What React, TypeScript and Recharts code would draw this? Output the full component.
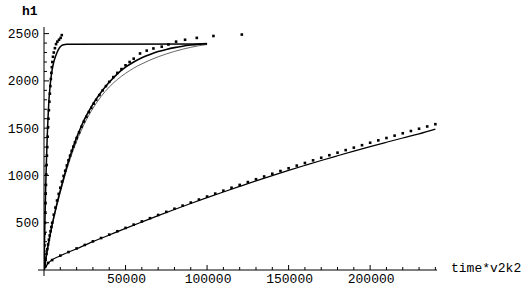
import { ComposedChart, Line, Scatter, XAxis, YAxis } from 'recharts'

// fast run: fitted curve + measured points
const fastLine = [
  { x: 0, y: 0 }, { x: 500, y: 450 }, { x: 1000, y: 850 }, { x: 1500, y: 1150 },
  { x: 2000, y: 1420 }, { x: 2500, y: 1620 }, { x: 3000, y: 1790 }, { x: 3500, y: 1900 },
  { x: 4000, y: 1990 }, { x: 4500, y: 2060 }, { x: 5000, y: 2120 }, { x: 6000, y: 2200 },
  { x: 7000, y: 2255 }, { x: 8000, y: 2300 }, { x: 9000, y: 2335 }, { x: 10000, y: 2360 },
  { x: 11000, y: 2375 }, { x: 12000, y: 2383 }, { x: 14000, y: 2388 }, { x: 100000, y: 2390 },
]
const fastDots = [
  { x: 150, y: 130 }, { x: 300, y: 260 }, { x: 450, y: 385 }, { x: 600, y: 500 },
  { x: 750, y: 610 }, { x: 900, y: 710 }, { x: 1050, y: 810 }, { x: 1200, y: 900 },
  { x: 1400, y: 1010 }, { x: 1600, y: 1110 }, { x: 1800, y: 1210 }, { x: 2000, y: 1300 },
  { x: 2250, y: 1410 }, { x: 2500, y: 1510 }, { x: 2750, y: 1600 }, { x: 3000, y: 1690 },
  { x: 3300, y: 1780 }, { x: 3600, y: 1865 }, { x: 3900, y: 1945 }, { x: 4200, y: 2020 },
  { x: 4500, y: 2085 }, { x: 4800, y: 2145 }, { x: 5100, y: 2200 }, { x: 5500, y: 2255 },
  { x: 6000, y: 2300 }, { x: 6700, y: 2346 }, { x: 7400, y: 2389 }, { x: 8200, y: 2415 },
  { x: 9200, y: 2435 }, { x: 10200, y: 2455 }, { x: 10900, y: 2484 },
]

// medium run: two fits + points
const midLine = [
  { x: 0, y: 0 }, { x: 2500, y: 260 }, { x: 5000, y: 480 }, { x: 7500, y: 670 },
  { x: 10000, y: 840 }, { x: 12500, y: 1000 }, { x: 15000, y: 1150 }, { x: 17500, y: 1280 },
  { x: 20000, y: 1400 }, { x: 22500, y: 1505 }, { x: 25000, y: 1600 }, { x: 27500, y: 1680 },
  { x: 30000, y: 1755 }, { x: 32500, y: 1820 }, { x: 35000, y: 1880 }, { x: 37500, y: 1935 },
  { x: 40000, y: 1985 }, { x: 45000, y: 2075 }, { x: 50000, y: 2145 }, { x: 55000, y: 2200 },
  { x: 60000, y: 2245 }, { x: 65000, y: 2280 }, { x: 70000, y: 2310 }, { x: 75000, y: 2333 },
  { x: 80000, y: 2352 }, { x: 85000, y: 2367 }, { x: 90000, y: 2379 }, { x: 95000, y: 2389 },
  { x: 100000, y: 2396 },
]
const midLine2 = [
  { x: 0, y: 0 }, { x: 5000, y: 470 }, { x: 10000, y: 820 }, { x: 15000, y: 1120 },
  { x: 20000, y: 1360 }, { x: 25000, y: 1555 }, { x: 30000, y: 1710 }, { x: 35000, y: 1835 },
  { x: 40000, y: 1935 }, { x: 45000, y: 2015 }, { x: 50000, y: 2080 }, { x: 55000, y: 2135 },
  { x: 60000, y: 2180 }, { x: 65000, y: 2220 }, { x: 70000, y: 2255 }, { x: 75000, y: 2285 },
  { x: 80000, y: 2312 }, { x: 85000, y: 2335 }, { x: 90000, y: 2355 }, { x: 95000, y: 2372 },
  { x: 100000, y: 2385 },
]
const midDots = [
  { x: 500, y: 60 }, { x: 1000, y: 115 }, { x: 1500, y: 170 }, { x: 2000, y: 220 },
  { x: 2500, y: 270 }, { x: 3000, y: 320 }, { x: 3500, y: 365 }, { x: 4000, y: 410 },
  { x: 4500, y: 455 }, { x: 5000, y: 500 }, { x: 6000, y: 585 }, { x: 7000, y: 660 },
  { x: 8000, y: 735 }, { x: 9000, y: 805 }, { x: 10000, y: 870 }, { x: 11000, y: 935 },
  { x: 12000, y: 995 }, { x: 13000, y: 1050 }, { x: 14000, y: 1105 }, { x: 15000, y: 1160 },
  { x: 16000, y: 1210 }, { x: 17000, y: 1260 }, { x: 18000, y: 1305 }, { x: 19000, y: 1350 },
  { x: 20000, y: 1395 }, { x: 21500, y: 1455 }, { x: 23000, y: 1515 }, { x: 24500, y: 1570 },
  { x: 26000, y: 1620 }, { x: 27500, y: 1670 }, { x: 29000, y: 1715 }, { x: 30500, y: 1760 },
  { x: 32000, y: 1800 }, { x: 34000, y: 1850 }, { x: 36000, y: 1900 }, { x: 38000, y: 1945 },
  { x: 40000, y: 1990 }, { x: 42500, y: 2040 }, { x: 45000, y: 2085 }, { x: 47500, y: 2125 },
  { x: 50000, y: 2165 }, { x: 52500, y: 2200 }, { x: 55000, y: 2235 }, { x: 58900, y: 2290 },
  { x: 63000, y: 2320 }, { x: 67100, y: 2343 }, { x: 72200, y: 2362 }, { x: 76300, y: 2385 },
  { x: 81000, y: 2415 }, { x: 86500, y: 2435 }, { x: 93700, y: 2455 }, { x: 103900, y: 2475 },
  { x: 121300, y: 2490 },
]

// slow run
const slowLine = [
  { x: 0, y: 0 }, { x: 3000, y: 80 }, { x: 10000, y: 150 }, { x: 20000, y: 225 },
  { x: 30000, y: 300 }, { x: 40000, y: 370 }, { x: 50000, y: 440 }, { x: 60000, y: 508 },
  { x: 70000, y: 575 }, { x: 80000, y: 640 }, { x: 90000, y: 703 }, { x: 100000, y: 765 },
  { x: 110000, y: 825 }, { x: 120000, y: 884 }, { x: 130000, y: 942 }, { x: 140000, y: 998 },
  { x: 150000, y: 1053 }, { x: 160000, y: 1106 }, { x: 170000, y: 1158 }, { x: 180000, y: 1208 },
  { x: 190000, y: 1257 }, { x: 200000, y: 1305 }, { x: 210000, y: 1351 }, { x: 220000, y: 1396 },
  { x: 230000, y: 1440 }, { x: 240000, y: 1490 },
]
const slowDots = [
  { x: 1000, y: 40 }, { x: 2500, y: 75 }, { x: 5000, y: 105 }, { x: 10000, y: 152 },
  { x: 15000, y: 190 }, { x: 20000, y: 228 }, { x: 25000, y: 265 }, { x: 30000, y: 303 },
  { x: 35000, y: 338 }, { x: 40000, y: 374 }, { x: 45000, y: 410 }, { x: 50000, y: 445 },
  { x: 55000, y: 480 }, { x: 60000, y: 514 }, { x: 65000, y: 548 }, { x: 70000, y: 582 },
  { x: 75000, y: 615 }, { x: 80000, y: 648 }, { x: 85000, y: 681 }, { x: 90000, y: 713 },
  { x: 95000, y: 745 }, { x: 100000, y: 777 }, { x: 105000, y: 808 }, { x: 110000, y: 839 },
  { x: 115000, y: 870 }, { x: 120000, y: 900 }, { x: 125000, y: 930 }, { x: 130000, y: 960 },
  { x: 135000, y: 989 }, { x: 140000, y: 1018 }, { x: 145000, y: 1047 }, { x: 150000, y: 1076 },
  { x: 155000, y: 1104 }, { x: 160000, y: 1132 }, { x: 165000, y: 1160 }, { x: 170000, y: 1187 },
  { x: 175000, y: 1214 }, { x: 180000, y: 1241 }, { x: 185000, y: 1268 }, { x: 190000, y: 1294 },
  { x: 195000, y: 1320 }, { x: 200000, y: 1346 }, { x: 205000, y: 1371 }, { x: 210000, y: 1396 },
  { x: 215000, y: 1421 }, { x: 220000, y: 1446 }, { x: 225000, y: 1470 }, { x: 230000, y: 1494 },
  { x: 235000, y: 1518 }, { x: 240000, y: 1542 },
]

const xTicks = [
  0, 10000, 20000, 30000, 40000, 50000, 60000, 70000, 80000, 90000, 100000, 110000, 120000,
  130000, 140000, 150000, 160000, 170000, 180000, 190000, 200000, 210000, 220000, 230000, 240000,
]
const xLabels = [50000, 100000, 150000, 200000]
const yTicks = [
  0, 100, 200, 300, 400, 500, 600, 700, 800, 900, 1000, 1100, 1200, 1300, 1400, 1500, 1600,
  1700, 1800, 1900, 2000, 2100, 2200, 2300, 2400, 2500,
]
const yLabels = [500, 1000, 1500, 2000, 2500]

const font = '"Liberation Mono", "DejaVu Sans Mono", monospace'

const XTick = ({ x, y, payload }: any) => {
  const v = payload.value
  if (v === 0) return <line x1={x - 6} y1={y} x2={x} y2={y} stroke="#000" />
  const major = xLabels.includes(v)
  return (
    <g>
      <line x1={x} y1={y} x2={x} y2={y - (major ? 5 : 3)} stroke="#000" />
      {major && (
        <text x={x + 1} y={y + 13} textAnchor="middle" fontFamily={font} fontSize={13} fill="#000">
          {v}
        </text>
      )}
    </g>
  )
}

const YTick = ({ x, y, payload }: any) => {
  const v = payload.value
  if (v === 0) return <line x1={x} y1={y} x2={x} y2={y + 6} stroke="#000" />
  const major = yLabels.includes(v)
  return (
    <g>
      <line x1={x} y1={y} x2={x + (major ? 5 : 3)} y2={y} stroke="#000" />
      {major && (
        <text x={x - 5} y={y} dy="0.35em" textAnchor="end" fontFamily={font} fontSize={13} fill="#000">
          {v}
        </text>
      )}
    </g>
  )
}

const Dot = ({ cx, cy }: any) => <rect x={cx - 1.3} y={cy - 1.3} width={2.6} height={2.6} fill="#000" />

export default function App() {
  return (
    <div style={{ position: 'relative', width: 532, height: 290, background: '#fff' }}>
      <style>{'body{margin:0}'}</style>
      <ComposedChart width={532} height={290} margin={{ top: 27, right: 95, bottom: 0, left: 0 }}>
        <XAxis
          type="number"
          dataKey="x"
          domain={[0, 241000]}
          ticks={xTicks}
          interval={0}
          height={20}
          tickSize={0}
          tickMargin={0}
          tick={<XTick />}
          axisLine={{ stroke: '#000' }}
          allowDataOverflow
        />
        <YAxis
          type="number"
          dataKey="y"
          domain={[0, 2570]}
          ticks={yTicks}
          interval={0}
          width={44}
          tickSize={0}
          tickMargin={0}
          tick={<YTick />}
          axisLine={{ stroke: '#000' }}
          allowDataOverflow
        />
        <Line data={slowLine} dataKey="y" type="monotone" stroke="#000" strokeWidth={1.2} dot={false} isAnimationActive={false} />
        <Line data={midLine2} dataKey="y" type="monotone" stroke="#666" strokeWidth={1} dot={false} isAnimationActive={false} />
        <Line data={midLine} dataKey="y" type="monotone" stroke="#000" strokeWidth={1.6} dot={false} isAnimationActive={false} />
        <Line data={fastLine} dataKey="y" type="monotone" stroke="#000" strokeWidth={1.5} dot={false} isAnimationActive={false} />
        <Scatter data={slowDots} dataKey="y" shape={<Dot />} isAnimationActive={false} />
        <Scatter data={midDots} dataKey="y" shape={<Dot />} isAnimationActive={false} />
        <Scatter data={fastDots} dataKey="y" shape={<Dot />} isAnimationActive={false} />
      </ComposedChart>
      <div style={{ position: 'absolute', left: 22, top: 4, fontFamily: font, fontSize: 13, fontWeight: 'bold' }}>h1</div>
      <div style={{ position: 'absolute', left: 451, top: 261, fontFamily: font, fontSize: 13 }}>time*v2k2</div>
    </div>
  )
}
